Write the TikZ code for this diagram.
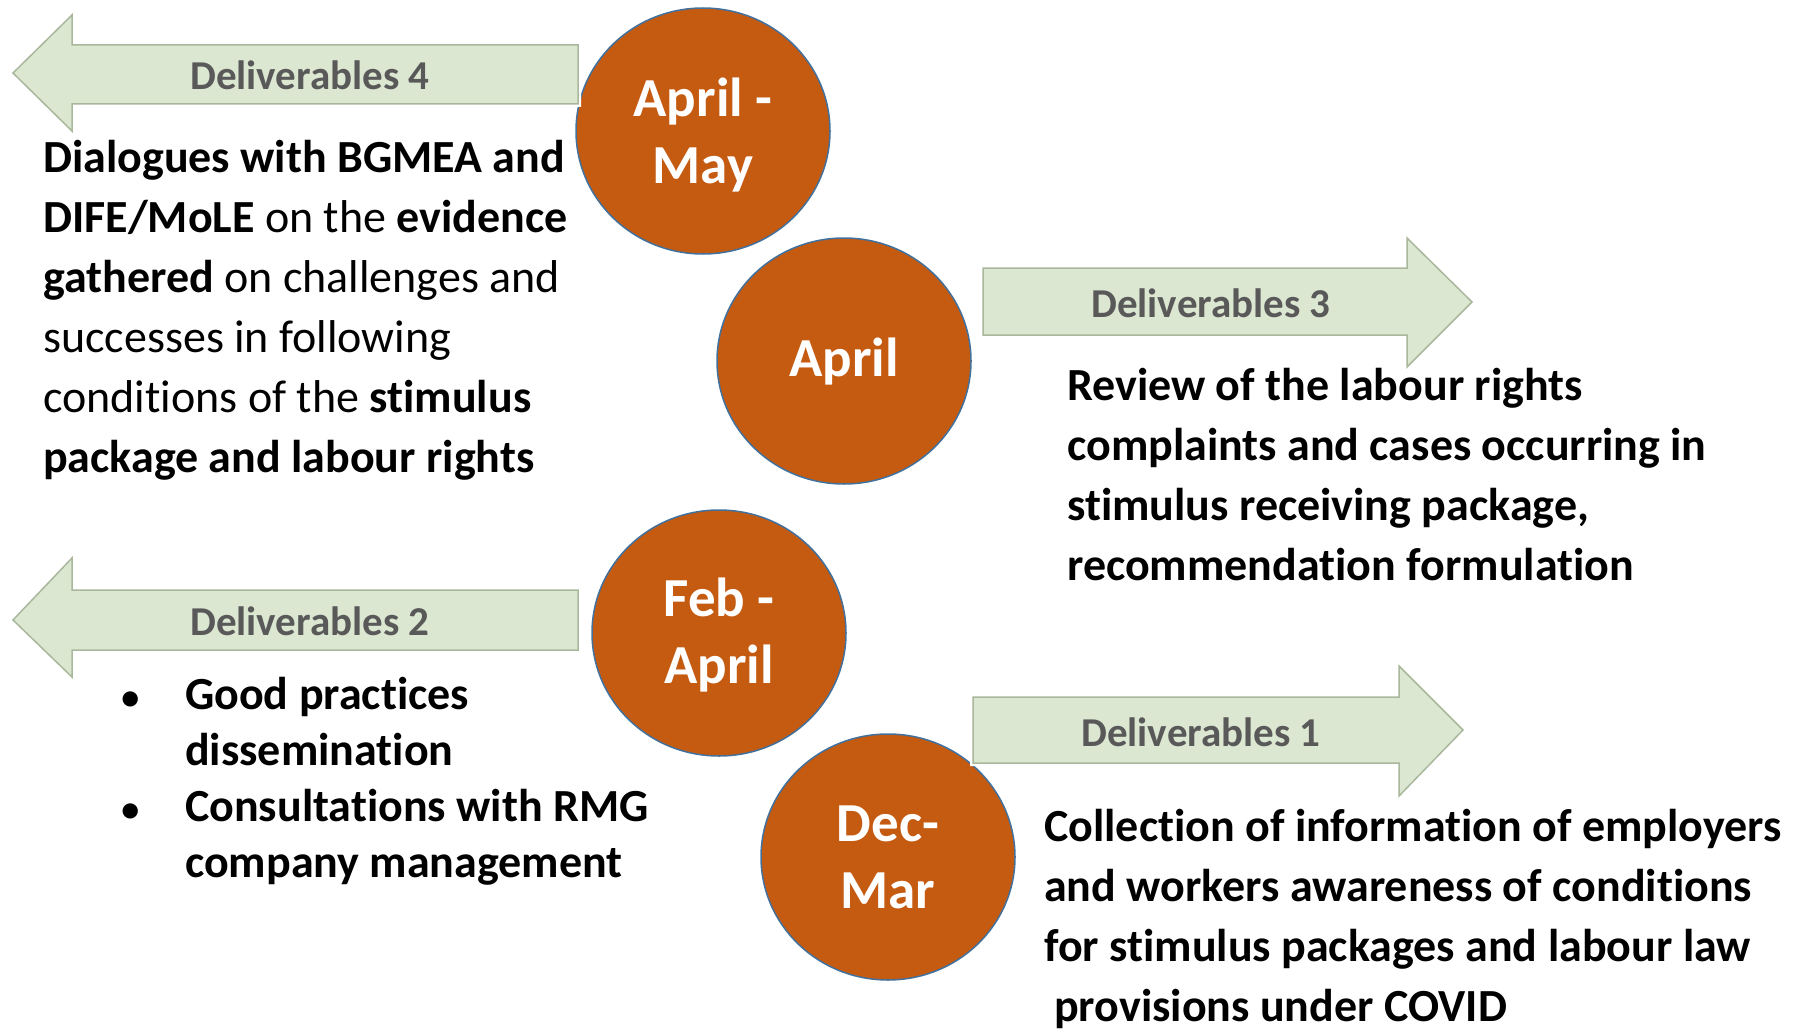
\documentclass[tikz,border=0pt]{standalone}
\usepackage{fontspec}
\setmainfont{Carlito}[RawFeature={-liga;-clig;-dlig;-calt;-hlig}]
\usetikzlibrary{shapes.geometric}
\definecolor{monthfill}{HTML}{C55A11}
\definecolor{monthline}{HTML}{41719C}
\definecolor{arrowfill}{HTML}{DCE7D2}
\definecolor{arrowedge}{HTML}{A9B89C}
\definecolor{labelgray}{HTML}{595959}
\begin{document}
\begin{tikzpicture}[x=1pt,y=-1pt,
  month/.style={ellipse, fill=monthfill, draw=monthline, line width=1.5pt,
    minimum width=254pt, minimum height=246pt, inner sep=0pt, align=center,
    text=white, font=\fontsize{55}{67}\selectfont\bfseries},
  halo/.style={draw=white, line width=6pt, line join=miter},
  deliv/.style={fill=arrowfill, draw=arrowedge, line width=1.5pt, line join=miter},
  dlabel/.style={text=labelgray, inner sep=0pt, font=\fontsize{41}{50}\selectfont\bfseries},
  body/.style={anchor=base west, align=left, inner sep=0pt, font=\fontsize{46}{60}\selectfont}]
\useasboundingbox (0,0) rectangle (1813,1030);

% months
\node[month, text depth=0pt] (may) at (703,131) {April -\\May};
\node[month, text depth=8pt] (apr) at (844,361) {April};
\node[month, text depth=4pt] (feb) at (719,633) {Feb -\\April};
\node[month] (dec) at (888,857) {Dec-\\Mar};

% deliverables 4 (left)
\draw[halo] (13,73) -- (72,15) -- (72,45) -- (578,45) -- (578,104) -- (72,104) -- (72,131) -- cycle;
\draw[deliv] (13,73) -- (72,15) -- (72,45) -- (578,45) -- (578,104) -- (72,104) -- (72,131) -- cycle;
\node[dlabel] (lab4) at (310,75) {Deliverables 4};

% deliverables 3 (right)
\draw[halo] (983,268) -- (1407,268) -- (1407,238) -- (1472,302) -- (1407,367) -- (1407,335) -- (983,335) -- cycle;
\draw[deliv] (983,268) -- (1407,268) -- (1407,238) -- (1472,302) -- (1407,367) -- (1407,335) -- (983,335) -- cycle;
\node[dlabel] (lab3) at (1211,303) {Deliverables 3};

% deliverables 2 (left)
\draw[halo] (13,620) -- (72,558) -- (72,590) -- (578,590) -- (578,650) -- (72,650) -- (72,677) -- cycle;
\draw[deliv] (13,620) -- (72,558) -- (72,590) -- (578,590) -- (578,650) -- (72,650) -- (72,677) -- cycle;
\node[dlabel] (lab2) at (310,621) {Deliverables 2};

% deliverables 1 (right)
\draw[halo] (973,697) -- (1399,697) -- (1399,666) -- (1463,730) -- (1399,796) -- (1399,763) -- (973,763) -- cycle;
\draw[deliv] (973,697) -- (1399,697) -- (1399,666) -- (1463,730) -- (1399,796) -- (1399,763) -- (973,763) -- cycle;
\node[dlabel] (lab1) at (1201,732) {Deliverables 1};

% texts (base = last line)
\node[body] (txt4) at (43,472) {\textbf{Dialogues with BGMEA and}\\
  \textbf{DIFE/MoLE} on the \textbf{evidence}\\
  \textbf{gathered} on challenges and\\
  successes in following\\
  conditions of the \textbf{stimulus}\\
  \textbf{package and labour rights}};
\node[body, font=\fontsize{46}{60}\selectfont\bfseries] (txt3) at (1067,580) {Review of the labour rights\\
  complaints and cases occurring in\\
  stimulus receiving package,\\
  recommendation formulation};
\node[body, font=\fontsize{46}{56}\selectfont\bfseries] (txt2) at (185,877) {\llap{{\fontsize{36}{36}\selectfont\textbullet}\hspace{46pt}}Good practices\\
  dissemination\\
  \llap{{\fontsize{36}{36}\selectfont\textbullet}\hspace{46pt}}Consultations with RMG\\
  company management};
\node[body, font=\fontsize{46}{60}\selectfont\bfseries] (txt1) at (1044,1021) {Collection of information of employers\\
  and workers awareness of conditions\\
  for stimulus packages and labour law\\
  \hspace*{10pt}provisions under COVID};
\end{tikzpicture}
\end{document}
